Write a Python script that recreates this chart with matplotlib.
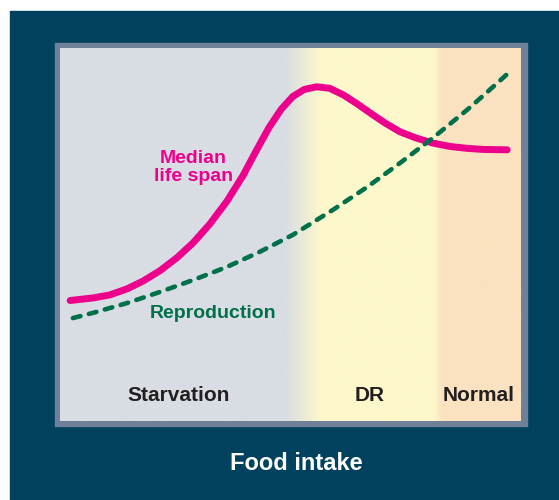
#!/usr/bin/env python3
# food intake vs median life span / reproduction schematic
import numpy as np
import matplotlib
matplotlib.use("Agg")
import matplotlib.pyplot as plt
from matplotlib.colors import LinearSegmentedColormap
from matplotlib.patches import Rectangle

# food intake (0-100, arbitrary units)
lifespan_x = [2.2, 7.2, 10.8, 14.5, 18.0, 21.7, 25.4, 28.9, 32.5, 36.2, 39.7,
              42.5, 45.3, 48.0, 50.5, 53.0, 55.7, 58.5, 61.5, 64.5, 67.5,
              70.5, 73.8, 77.4, 80.9, 84.6, 88.3, 91.8, 97.0]
lifespan_y = [32.3, 33.0, 33.8, 35.4, 37.5, 40.3, 43.8, 47.8, 52.8, 58.9, 65.8,
              72.3, 78.6, 83.6, 87.0, 88.9, 89.6, 89.2, 87.4, 85.0, 82.4,
              79.9, 77.5, 75.8, 74.5, 73.6, 73.1, 72.8, 72.7]
repro_x = [2.8, 7.2, 14.5, 21.7, 28.9, 36.2, 43.4, 50.5, 59.2, 66.6, 73.8,
           80.9, 88.3, 92.6, 97.0]
repro_y = [27.6, 29.0, 31.6, 34.6, 37.8, 41.3, 45.4, 49.9, 56.6, 62.7, 69.2,
           75.9, 83.4, 88.1, 93.0]

zone_labels = ["Starvation", "DR", "Normal"]
zone_x = [25.8, 67.2, 90.9]

# background bands: (position 0-1, colour)
band_stops = [(0.0, "#d9dde4"), (0.488, "#d9dde4"), (0.568, "#fdf8cb"),
              (0.813, "#fdf8cb"), (0.831, "#fbe2c0"), (1.0, "#fbe2c0")]

PINK = "#ec008c"
GREEN = "#00704a"
DARK = "#00415e"
BORDER = "#6f8099"
TEXT = "#231f20"

plt.rcParams['font.family'] = ['Liberation Sans', 'DejaVu Sans']

fig = plt.figure(figsize=(5.59, 5.0), dpi=100)
fig.patch.set_facecolor("white")
fig.patches.append(Rectangle((10 / 559, 0), 549 / 559, 489 / 500,
                             transform=fig.transFigure, color=DARK, zorder=0))
fig.patches.append(Rectangle((55 / 559, 74 / 500), 472 / 559, 383 / 500,
                             transform=fig.transFigure, color=BORDER, zorder=1))

ax = fig.add_axes([60 / 559, 79 / 500, 461 / 559, 373 / 500])
ax.set_zorder(2)
cmap = LinearSegmentedColormap.from_list("bands", band_stops)
ax.imshow(np.linspace(0, 1, 600)[None, :], aspect="auto", cmap=cmap,
          extent=[0, 100, 0, 100], zorder=0)
ax.set_xlim(0, 100)
ax.set_ylim(0, 100)
ax.set_axis_off()

ax.plot(lifespan_x, lifespan_y, color=PINK, lw=5, solid_capstyle="round",
        solid_joinstyle="round", zorder=2)
ax.plot(repro_x, repro_y, color=GREEN, lw=3.3, dashes=(1.7, 1.9),
        dash_capstyle="round", zorder=3)

ax.text(28.9, 68.0, "Median\nlife span", color=PINK, fontsize=14,
        fontweight="bold", ha="center", va="center", linespacing=1.08)
ax.text(33.1, 28.9, "Reproduction", color=GREEN, fontsize=14,
        fontweight="bold", ha="center", va="center")
for lab, x in zip(zone_labels, zone_x):
    ax.text(x, 6.8, lab, color=TEXT, fontsize=15, fontweight="bold",
            ha="center", va="center")

fig.text(296 / 559, 37 / 500, "Food intake", color="white", fontsize=17,
         fontweight="bold", ha="center", va="center")

fig.savefig("out.png", dpi=100)
